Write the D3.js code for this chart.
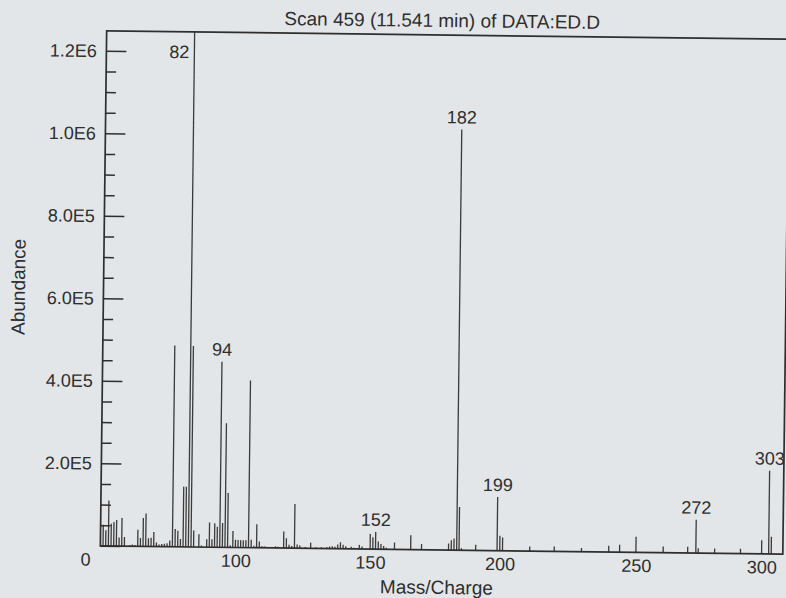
<!DOCTYPE html>
<html>
<head>
<meta charset="utf-8">
<script src="https://cdn.jsdelivr.net/npm/d3@7"></script>
<style>
  body { margin: 0; background: #e3e6e9; }
  svg { display: block; }
  text { font-family: "Liberation Sans", Arial, Helvetica, sans-serif; }
</style>
</head>
<body>
<svg width="786" height="598"></svg>
<script>
// m/z and abundance of every line
const masses = [
    50, 51, 52, 53, 54, 55, 56, 57, 58, 60, 61, 62, 63, 64, 65, 66, 67, 68, 69, 70,
    71, 72, 73, 74, 75, 76, 77, 78, 79, 80, 81, 82, 83, 84, 86, 87, 89, 90, 91, 92,
    93, 94, 95, 96, 97, 98, 99, 100, 101, 102, 103, 104, 105, 106, 107, 108, 109, 110, 111, 115,
    116, 118, 119, 120, 121, 122, 123, 124, 126, 128, 130, 132, 134, 135, 136, 137, 138, 139, 140, 141,
    143, 144, 146, 147, 150, 151, 152, 153, 154, 155, 156, 159, 165, 169, 179, 180, 181, 182, 183, 184,
    190, 199, 200, 201, 211, 220, 230, 240, 244, 250, 260, 269, 272, 273, 280, 291, 300, 303, 304
];
const abundances = [
    51000, 38000, 110000, 54000, 58000, 63000, 21000, 68000, 22000, 3000, 4000, 3000, 40000, 20000, 69000, 80000, 20000, 21000, 35000, 10000,
    5000, 6000, 7000, 8000, 15000, 488000, 43000, 39000, 19000, 146000, 146000, 1300000, 487000, 40000, 31000, 4000, 19000, 60000, 19000, 58000,
    50000, 450000, 59000, 301000, 132000, 5000, 40000, 19000, 18000, 18000, 18000, 18000, 405000, 19000, 5000, 57000, 15000, 4000, 3000, 4000,
    3000, 40000, 24000, 8000, 5000, 107000, 9000, 7000, 3000, 14000, 3000, 3000, 3000, 5000, 6000, 5000, 10000, 16000, 10000, 6000,
    5000, 3000, 10000, 6000, 37000, 29000, 42000, 19000, 13000, 8000, 4000, 17000, 35000, 14000, 16000, 24000, 28000, 1020000, 105000, 5000,
    14000, 130000, 36000, 32000, 11000, 12000, 9000, 15000, 18000, 38000, 15000, 15000, 81000, 12000, 12000, 12000, 33000, 202000, 42000
];
const labelledMasses = [82, 94, 152, 182, 199, 272, 303];

const xTicks = [100, 150, 200, 250, 300];
const yMajorTicks = [0, 2e5, 4e5, 6e5, 8e5, 1e6, 1.2e6];
const yTickLabels = ['0', '2.0E5', '4.0E5', '6.0E5', '8.0E5', '1.0E6', '1.2E6'];
const yMinorTicks = d3.range(5e4, 1.2e6, 5e4).filter(v => v % 2e5 !== 0);

const chartTitle = 'Scan 459 (11.541 min) of DATA:ED.D';
const xTitle = 'Mass/Charge';
const yTitle = 'Abundance';

const plot = {left: 103.5, right: 786, top: 35, bottom: 550};
const ink = '#2e2e2e';

const svg = d3.select('svg');
// the page was scanned a little crooked
const g = svg.append('g').attr('transform', 'rotate(0.7 443 291)');

// the printed mass axis is slightly stretched, so pin it at the labelled peaks
const x = d3.scaleLinear()
    .domain([49, 82, 105, 182, 199, 272, 303, 308.5])
    .range([plot.left, 191.5, 251.6, 459.8, 500.2, 699, 771.8, plot.right]);

const y = d3.scaleLinear()
    .domain([0, 1.2e6])
    .range([plot.bottom, 55]);

g.append('clipPath').attr('id', 'plot-clip')
    .append('rect')
    .attr('x', plot.left).attr('y', plot.top)
    .attr('width', plot.right - plot.left).attr('height', plot.bottom - plot.top);

const peaks = masses.map((m, i) => ({m: m, v: abundances[i]}));

// spectrum lines
g.append('g')
    .attr('clip-path', 'url(#plot-clip)')
    .selectAll('line')
    .data(peaks)
    .join('line')
    .attr('x1', d => x(d.m))
    .attr('x2', d => x(d.m))
    .attr('y1', y(0))
    .attr('y2', d => y(d.v))
    .attr('stroke', '#3a3a3a')
    .attr('stroke-width', 1.3);

// y axis, ticks point into the plot
const yAxis = g.append('g')
    .attr('transform', `translate(${plot.left},0)`)
    .attr('color', ink)
    .call(d3.axisLeft(y)
        .tickValues(yMajorTicks)
        .tickFormat((d, i) => yTickLabels[i])
        .tickSize(-20)
        .tickPadding(9.5));
yAxis.attr('font-size', 18).attr('font-family', null);
yAxis.select('.domain').remove();
yAxis.selectAll('.tick line').attr('stroke-width', 1.5);
// the zero sits down on the level of the mass labels
yAxis.selectAll('.tick text').filter(d => d === 0).attr('dy', '1.08em');

const yMinor = g.append('g')
    .attr('transform', `translate(${plot.left},0)`)
    .attr('color', ink)
    .call(d3.axisLeft(y).tickValues(yMinorTicks).tickFormat('').tickSize(-10));
yMinor.select('.domain').remove();
yMinor.selectAll('.tick line').attr('stroke-width', 1.5);

// x axis: labels only
const xAxis = g.append('g')
    .attr('transform', `translate(0,${plot.bottom})`)
    .attr('color', ink)
    .call(d3.axisBottom(x).tickValues(xTicks).tickSize(0).tickPadding(6.7));
xAxis.attr('font-size', 18).attr('font-family', null);
xAxis.select('.domain').remove();

// frame
g.append('rect')
    .attr('x', plot.left)
    .attr('y', plot.top)
    .attr('width', plot.right - plot.left)
    .attr('height', plot.bottom - plot.top)
    .attr('fill', 'none')
    .attr('stroke', ink)
    .attr('stroke-width', 1.7);

// peak labels; an off-scale peak gets its label beside the line
g.selectAll('.peak-label')
    .data(peaks.filter(d => labelledMasses.includes(d.m)))
    .join('text')
    .attr('class', 'peak-label')
    .attr('font-size', 18)
    .attr('fill', ink)
    .attr('x', d => y(d.v) < plot.top ? x(d.m) - 5 : x(d.m))
    .attr('y', d => y(d.v) < plot.top ? y(1.2e6) : y(d.v) - 6)
    .attr('dy', d => y(d.v) < plot.top ? '0.35em' : null)
    .attr('text-anchor', d => y(d.v) < plot.top ? 'end' : 'middle')
    .text(d => d.m);

g.append('text')
    .attr('x', 439)
    .attr('y', 27)
    .attr('text-anchor', 'middle')
    .attr('font-size', 19)
    .attr('fill', ink)
    .text(chartTitle);

g.append('text')
    .attr('x', 440)
    .attr('y', 594)
    .attr('text-anchor', 'middle')
    .attr('font-size', 19)
    .attr('fill', ink)
    .text(xTitle);

g.append('text')
    .attr('transform', 'translate(25,292) rotate(-90)')
    .attr('text-anchor', 'middle')
    .attr('font-size', 19)
    .attr('fill', ink)
    .text(yTitle);
</script>
</body>
</html>
